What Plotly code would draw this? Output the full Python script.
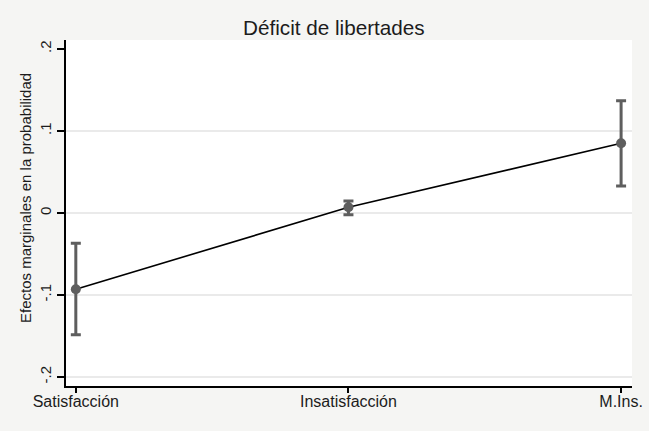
import plotly.graph_objects as go

categories = ["Satisfacción", "Insatisfacción", "M.Ins."]
effects = [-0.093, 0.007, 0.085]
ci_upper = [-0.037, 0.0145, 0.137]
ci_lower = [-0.1485, -0.002, 0.033]
ytick_vals = [-0.2, -0.1, 0, 0.1, 0.2]
ytick_text = ["-.2", "-.1", "0", ".1", ".2"]
grid_vals = [-0.2, -0.1, 0, 0.1]

err_plus = [u - v for u, v in zip(ci_upper, effects)]
err_minus = [v - l for v, l in zip(effects, ci_lower)]

font_family = "Liberation Sans, Arial, sans-serif"
txt = "#1c1c1c"

fig = go.Figure()
fig.add_trace(go.Scatter(
    x=categories, y=effects, mode="lines+markers",
    line=dict(color="#000000", width=1.6),
    marker=dict(color="#5e5e5e", size=10),
    error_y=dict(type="data", array=err_plus, arrayminus=err_minus,
                 color="#5e5e5e", thickness=3, width=5),
    showlegend=False,
))

shapes = []
for g in grid_vals:
    shapes.append(dict(type="line", xref="paper", x0=0, x1=1, yref="y", y0=g, y1=g,
                       line=dict(color="#EAEAEA", width=2), layer="below"))

fig.update_layout(
    width=649, height=431,
    margin=dict(l=66, r=17, t=40, b=45),
    paper_bgcolor="#F5F5F3", plot_bgcolor="#FFFFFF",
    font=dict(family=font_family, color=txt),
    shapes=shapes,
    annotations=[
        dict(text="Déficit de libertades", xref="paper", yref="paper",
             x=(334 - 66) / 566, y=1, yshift=40 - 27, yanchor="middle",
             xanchor="center", showarrow=False, font=dict(size=20.7, color=txt)),
        dict(text="Efectos marginales en la probabilidad", xref="paper", yref="paper",
             x=0, xshift=-66 + 25, y=(386 - 198) / 346, textangle=-90,
             xanchor="center", yanchor="middle", showarrow=False,
             font=dict(size=15, color=txt)),
    ],
    xaxis=dict(
        type="category", range=[-0.036, 2.04], showgrid=False, zeroline=False,
        showline=True, linecolor="#000000", linewidth=1.5, automargin=False,
        ticks="outside", ticklen=5, tickcolor="#000000", tickwidth=1.5,
        ticklabelstandoff=-5,
        tickfont=dict(size=16, color=txt),
    ),
    yaxis=dict(
        range=[-0.211, 0.211], tickvals=ytick_vals, ticktext=ytick_text,
        showgrid=False, zeroline=False, showline=True, linecolor="#000000", linewidth=1.5,
        automargin=False,
        ticks="outside", ticklen=7, tickcolor="#000000", tickwidth=1.5,
        tickangle=-90, tickfont=dict(size=15, color=txt),
    ),
)

fig.write_html("out.html", config={"displayModeBar": False},
               post_script="document.body.style.margin='0px';document.body.style.overflow='hidden';")
